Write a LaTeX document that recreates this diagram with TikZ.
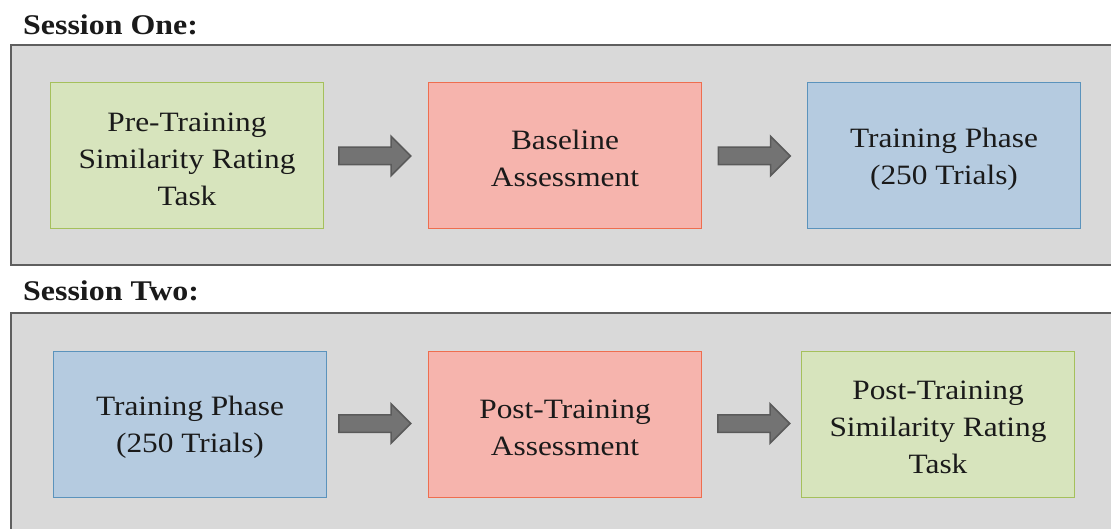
\documentclass[tikz,border=0pt]{standalone}
\usepackage{fontspec}
\setmainfont{Liberation Serif}[FakeStretch=1.12]
\usetikzlibrary{shapes.arrows,calc}
\definecolor{panelfill}{HTML}{D9D9D9}
\definecolor{panelline}{HTML}{5F5F5F}
\definecolor{greenfill}{HTML}{D7E4BD}
\definecolor{greenline}{HTML}{A5C05C}
\definecolor{redfill}{HTML}{F6B4AD}
\definecolor{redline}{HTML}{EE6E4F}
\definecolor{bluefill}{HTML}{B5CBE0}
\definecolor{blueline}{HTML}{5B93BC}
\definecolor{arrowfill}{HTML}{737373}
\definecolor{arrowline}{HTML}{5A5A5A}
\definecolor{txt}{HTML}{1A1A1A}
\newcommand{\topstrut}{\rule{0pt}{25pt}}
\tikzset{
  panel/.style={fill=panelfill,draw=panelline,line width=2pt},
  stagebox/.style={minimum width=273pt,minimum height=146pt,align=center,inner sep=0pt,
    line width=1pt,text=txt,font=\fontsize{28}{37}\selectfont},
  greenbox/.style={stagebox,fill=greenfill,draw=greenline},
  redbox/.style={stagebox,fill=redfill,draw=redline},
  bluebox/.style={stagebox,fill=bluefill,draw=blueline},
  header/.style={anchor=base west,inner sep=0pt,text=txt,font=\fontsize{28.5}{30}\selectfont\bfseries},
  bigarrow/.style={single arrow,anchor=west,fill=arrowfill,draw=arrowline,line width=1.5pt,
    minimum height=72pt,minimum width=0pt,inner xsep=0pt,inner ysep=8pt,
    single arrow head extend=11pt,single arrow tip angle=90}
}
\begin{document}
\begin{tikzpicture}[x=1pt,y=-1pt]
\useasboundingbox (0,0) rectangle (1111,529);
\clip (0,0) rectangle (1111,529);
\fill[white] (0,0) rectangle (1111,529);
% headers
\node[header] (h1) at (23,35) {Session One:};
\node[header] (h2) at (23,301) {Session Two:};
% panels
\draw[panel] (11,45) rectangle (1116,265);
\draw[panel] (11,313) rectangle (1116,540);
% session one
\node[greenbox] (a1) at (187,156) {\topstrut Pre-Training\\Similarity Rating\\Task};
\node[redbox] (b1) at (565,156) {\topstrut Baseline\\Assessment};
\node[bluebox] (c1) at (944,156) {\topstrut Training Phase\\(250 Trials)};
\node[bigarrow] (ar1) at ($(a1.east)+(14,0)$) {};
\node[bigarrow] (ar2) at ($(b1.east)+(15.5,0)$) {};
% session two
\node[bluebox] (a2) at (190,424.5) {\topstrut Training Phase\\(250 Trials)};
\node[redbox] (b2) at (565,424.5) {\topstrut Post-Training\\Assessment};
\node[greenbox] (c2) at (938,424.5) {\topstrut Post-Training\\Similarity Rating\\Task};
\node[bigarrow] (ar3) at ($(a2.east)+(11,-1)$) {};
\node[bigarrow] (ar4) at ($(b2.east)+(15,-1)$) {};
\end{tikzpicture}
\end{document}
